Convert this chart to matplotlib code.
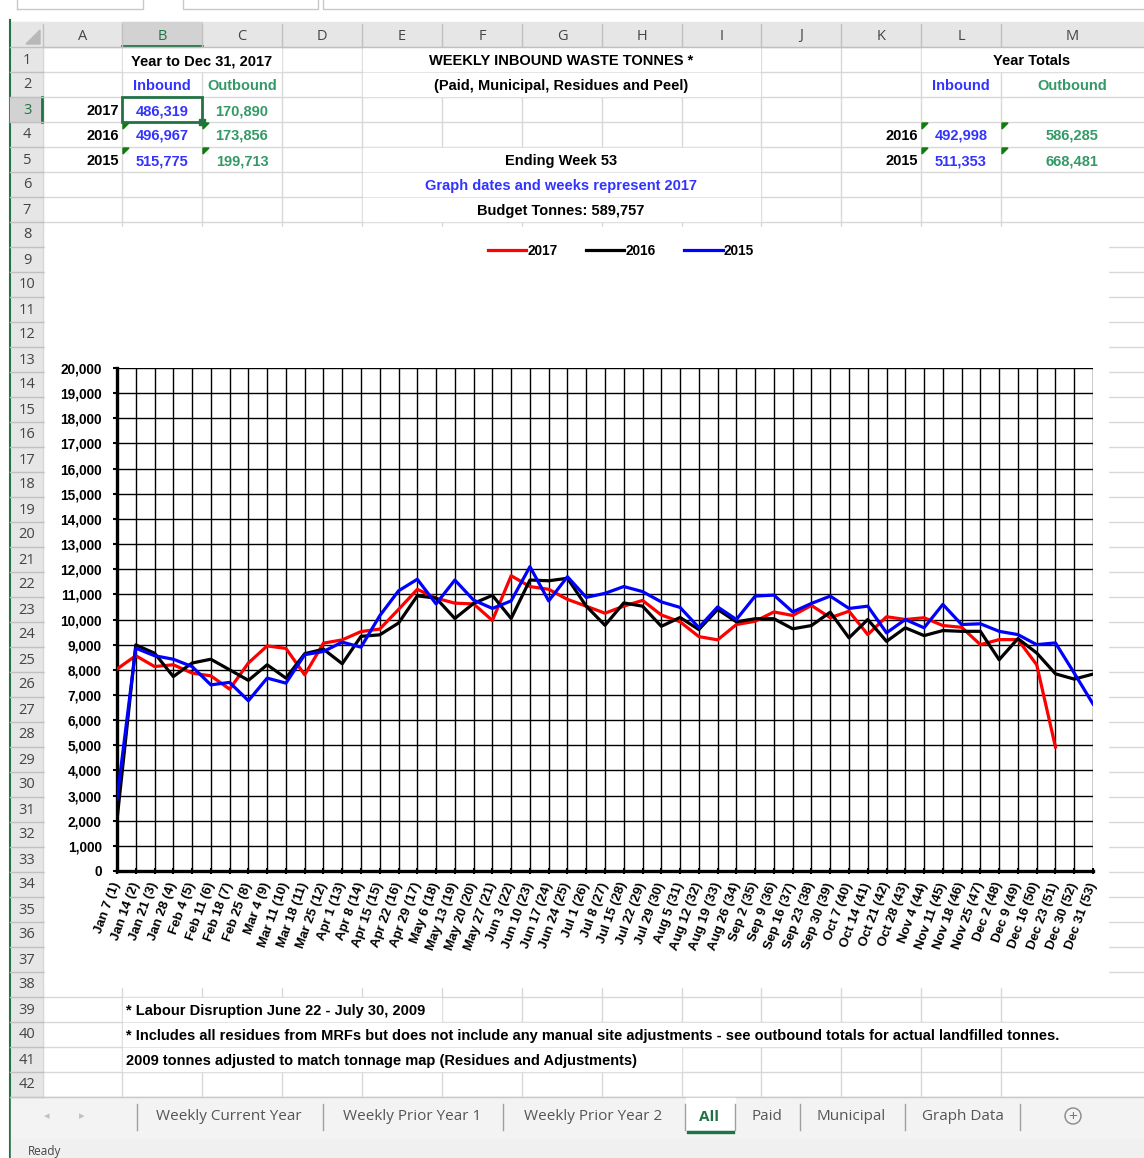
import matplotlib
matplotlib.use("Agg")
import matplotlib.pyplot as plt
from matplotlib.patches import Rectangle, Polygon
from matplotlib.ticker import FuncFormatter
import numpy as np

plt.rcParams['font.family'] = ['Liberation Sans', 'DejaVu Sans']

# weekly inbound tonnes
week_labels = ['Jan 7 (1)', 'Jan 14 (2)', 'Jan 21 (3)', 'Jan 28 (4)', 'Feb 4 (5)', 'Feb 11 (6)',
               'Feb 18 (7)', 'Feb 25 (8)', 'Mar 4 (9)', 'Mar 11 (10)', 'Mar 18 (11)', 'Mar 25 (12)',
               'Apr 1 (13)', 'Apr 8 (14)', 'Apr 15 (15)', 'Apr 22 (16)', 'Apr 29 (17)', 'May 6 (18)',
               'May 13 (19)', 'May 20 (20)', 'May 27 (21)', 'Jun 3 (22)', 'Jun 10 (23)', 'Jun 17 (24)',
               'Jun 24 (25)', 'Jul 1 (26)', 'Jul 8 (27)', 'Jul 15 (28)', 'Jul 22 (29)', 'Jul 29 (30)',
               'Aug 5 (31)', 'Aug 12 (32)', 'Aug 19 (33)', 'Aug 26 (34)', 'Sep 2 (35)', 'Sep 9 (36)',
               'Sep 16 (37)', 'Sep 23 (38)', 'Sep 30 (39)', 'Oct 7 (40)', 'Oct 14 (41)', 'Oct 21 (42)',
               'Oct 28 (43)', 'Nov 4 (44)', 'Nov 11 (45)', 'Nov 18 (46)', 'Nov 25 (47)', 'Dec 2 (48)',
               'Dec 9 (49)', 'Dec 16 (50)', 'Dec 23 (51)', 'Dec 30 (52)', 'Dec 31 (53)']

tonnes_2017 = [8030, 8560, 8130, 8200, 7870, 7760, 7230, 8270, 8950, 8850,
               7800, 9060, 9190, 9520, 9620, 10400, 11200, 10850, 10650, 10620,
               9960, 11740, 11310, 11200, 10800, 10530, 10250, 10530, 10760, 10180,
               9910, 9320, 9190, 9800, 9930, 10300, 10160, 10560, 10070, 10330,
               9400, 10110, 10000, 10070, 9760, 9690, 9000, 9200, 9200, 8200, 4930]
tonnes_2016 = [2030, 8990, 8660, 7730, 8270, 8420, 8000, 7580, 8200, 7670,
               8640, 8820, 8240, 9330, 9390, 9860, 10940, 10850, 10040, 10640,
               10960, 10040, 11570, 11540, 11640, 10530, 9770, 10660, 10530, 9730,
               10080, 9600, 10400, 9910, 10030, 10030, 9630, 9760, 10290, 9270,
               10000, 9130, 9670, 9360, 9560, 9530, 9530, 8400, 9240, 8670,
               7840, 7630, 7830]
tonnes_2015 = [2850, 8860, 8560, 8420, 8130, 7400, 7500, 6770, 7670, 7470,
               8600, 8730, 9100, 8900, 10150, 11140, 11600, 10620, 11570, 10770,
               10440, 10740, 12100, 10740, 11700, 10880, 11040, 11310, 11110, 10700,
               10480, 9680, 10500, 10000, 10930, 10970, 10300, 10640, 10930, 10440,
               10530, 9470, 10000, 9670, 10600, 9800, 9830, 9530, 9400, 9000,
               9070, 7870, 6640]

# sheet cells
columns = ['A', 'B', 'C', 'D', 'E', 'F', 'G', 'H', 'I', 'J', 'K', 'L', 'M']
col_edges = [43, 122, 202, 282, 362, 442, 522, 602, 682, 761, 841, 921, 1001, 1144]
years = ['2017', '2016', '2015']
ytd_inbound = ['486,319', '496,967', '515,775']
ytd_outbound = ['170,890', '173,856', '199,713']
total_years = ['2016', '2015']
total_inbound = ['492,998', '511,353']
total_outbound = ['586,285', '668,481']
footnotes = ['* Labour Disruption June 22 - July 30, 2009',
             '* Includes all residues from MRFs but does not include any manual site adjustments - see outbound totals for actual landfilled tonnes.',
             '2009 tonnes adjusted to match tonnage map (Residues and Adjustments)']
footnote_ends = [442, 1144, 682]
tabs = ['Weekly Current Year', 'Weekly Prior Year 1', 'Weekly Prior Year 2', 'All', 'Paid', 'Municipal', 'Graph Data']
tab_centers = [229, 412, 593, 709, 767, 851, 963]
tab_seps = [137, 323, 503, 685, 735, 800, 905, 1020]

W, H = 1144, 1158
fig = plt.figure(figsize=(W / 100, H / 100), dpi=100)
bg = fig.add_axes([0, 0, 1, 1])
bg.set_xlim(0, W)
bg.set_ylim(H, 0)
bg.axis('off')

BLUE = '#3333ff'
GREEN = '#339966'
GRID = '#d8d8d8'
HEAD = '#e6e6e6'
XLGREEN = '#217346'


def row_y(r):
    return 47 + 25 * (r - 1) + 14


# top strip (formula bar remains)
bg.plot([17, 143, 143], [9, 9, 0], color='#c8c8c8', lw=1)
bg.plot([17, 17], [0, 9], color='#c8c8c8', lw=1)
bg.plot([183, 183, 318, 318], [0, 9, 9, 0], color='#c8c8c8', lw=1)
bg.plot([323, 323, 1144], [0, 9, 9], color='#c8c8c8', lw=1)
bg.add_patch(Rectangle((0, 0), 10, H, color='white', zorder=0))
bg.plot([10, 10], [20, H], color=XLGREEN, lw=1.5)

# headers
bg.add_patch(Rectangle((10, 22), W - 10, 25, color=HEAD, zorder=1))
bg.add_patch(Rectangle((10, 22), 33, 1075, color=HEAD, zorder=1))
bg.add_patch(Polygon([[40, 44], [40, 30], [26, 44]], closed=True, color='#b8b8b8', zorder=2))
bg.add_patch(Rectangle((122, 22), 80, 25, color='#d2d2d2', zorder=2))
bg.plot([122, 202], [46, 46], color=XLGREEN, lw=2, zorder=3)
bg.add_patch(Rectangle((10, 97), 33, 25, color='#d2d2d2', zorder=2))
bg.plot([42, 42], [97, 122], color=XLGREEN, lw=2, zorder=3)
for i, c in enumerate(columns):
    bg.text((col_edges[i] + col_edges[i + 1]) / 2, 36, c, ha='center', va='center', fontsize=10.5,
            family=['Open Sans', 'DejaVu Sans'], color=XLGREEN if c == 'B' else '#444444', zorder=3)
    bg.plot([col_edges[i], col_edges[i]], [24, 46], color='#c0c0c0', lw=1, zorder=3)
for r in range(1, 43):
    bg.text(27, row_y(r) - 1, str(r), ha='center', va='center', fontsize=10.5,
            family=['Open Sans', 'DejaVu Sans'], color=XLGREEN if r == 3 else '#444444', zorder=3)
    bg.plot([10, 43], [47 + 25 * r, 47 + 25 * r], color='#c0c0c0', lw=1, zorder=3)
bg.plot([10, W], [47, 47], color='#c0c0c0', lw=1, zorder=3)

# cell grid
for r in range(0, 43):
    bg.plot([43, W], [47 + 25 * r, 47 + 25 * r], color=GRID, lw=1, zorder=1)
for xe in col_edges[:-1]:
    bg.plot([xe, xe], [47, 1097], color=GRID, lw=1, zorder=1)
# merged header cells hide inner borders
for x0, x1, rows in [(123, 281, [1]), (363, 760, [1, 2, 5, 6, 7]), (922, 1143, [1])]:
    for r in rows:
        bg.add_patch(Rectangle((x0, 47 + 25 * (r - 1) + 1), x1 - x0, 23, color='white', zorder=1.5))

# chart area white block
bg.add_patch(Rectangle((45, 227), 1063, 760, color='white', zorder=1.6))

# footnote text overflows over the cells it runs through
for i in range(3):
    bg.add_patch(Rectangle((123, 47 + 25 * (38 + i) + 1), footnote_ends[i] - 124, 23, color='white', zorder=1.5))

bold = dict(fontsize=10.5, fontweight='bold', zorder=4)
bg.text(202, row_y(1), 'Year to Dec 31, 2017', ha='center', va='center', **bold)
bg.text(561, row_y(1), 'WEEKLY INBOUND WASTE TONNES *', ha='center', va='center', **bold)
bg.text(1032, row_y(1), 'Year Totals', ha='center', va='center', **bold)
bg.text(162, row_y(2), 'Inbound', ha='center', va='center', color=BLUE, **bold)
bg.text(242, row_y(2), 'Outbound', ha='center', va='center', color=GREEN, **bold)
bg.text(561, row_y(2), '(Paid, Municipal, Residues and Peel)', ha='center', va='center', **bold)
bg.text(961, row_y(2), 'Inbound', ha='center', va='center', color=BLUE, **bold)
bg.text(1072, row_y(2), 'Outbound', ha='center', va='center', color=GREEN, **bold)
for i in range(3):
    bg.text(119, row_y(3 + i), years[i], ha='right', va='center', **bold)
    bg.text(162, row_y(3 + i), ytd_inbound[i], ha='center', va='center', color=BLUE, **bold)
    bg.text(242, row_y(3 + i), ytd_outbound[i], ha='center', va='center', color=GREEN, **bold)
for i in range(2):
    bg.text(918, row_y(4 + i), total_years[i], ha='right', va='center', **bold)
    bg.text(961, row_y(4 + i), total_inbound[i], ha='center', va='center', color=BLUE, **bold)
    bg.text(1072, row_y(4 + i), total_outbound[i], ha='center', va='center', color=GREEN, **bold)
bg.text(561, row_y(5), 'Ending Week 53', ha='center', va='center', **bold)
bg.text(561, row_y(6), 'Graph dates and weeks represent 2017', ha='center', va='center', color=BLUE, **bold)
bg.text(561, row_y(7), 'Budget Tonnes: 589,757', ha='center', va='center', **bold)
for i, t in enumerate(footnotes):
    bg.text(126, row_y(39 + i), t, ha='left', va='center', **bold)

# error-indicator triangles and selected cell
for xc in [122, 202, 921, 1001]:
    for r in [4, 5]:
        y0 = 47 + 25 * (r - 1)
        bg.add_patch(Polygon([[xc + 1, y0 + 1], [xc + 7, y0 + 1], [xc + 1, y0 + 7]], closed=True,
                             color='#107c10', zorder=5))
bg.add_patch(Rectangle((122, 97), 80, 25, fill=False, ec=XLGREEN, lw=2, zorder=5))
bg.add_patch(Rectangle((199, 119), 6, 6, color=XLGREEN, zorder=6))

# sheet tabs / status bar
bg.add_patch(Rectangle((11, 1097), W, 42, color='#f3f3f3', zorder=2))
bg.add_patch(Rectangle((11, 1139), W, 19, color='#f0f0f0', zorder=2))
bg.plot([11, W], [1097, 1097], color='#c8c8c8', lw=1, zorder=3)
bg.add_patch(Rectangle((686, 1098), 49, 36, color='white', zorder=3))
bg.plot([688, 733], [1132, 1132], color=XLGREEN, lw=2.5, zorder=4)
for xs in tab_seps:
    bg.plot([xs, xs], [1104, 1130], color='#a0a0a0', lw=1, zorder=4)
for t, xc in zip(tabs, tab_centers):
    bg.text(xc, 1117, t, ha='center', va='center', fontsize=11,
            family=['Open Sans', 'DejaVu Sans'], color=XLGREEN if t == 'All' else '#555555',
            fontweight='bold' if t == 'All' else 'normal', zorder=5)
bg.text(47, 1116, '\u25C2', ha='center', va='center', fontsize=8, color='#c0c0c0', zorder=5)
bg.text(82, 1116, '\u25B8', ha='center', va='center', fontsize=8, color='#c0c0c0', zorder=5)
bg.text(1073, 1116, '+', ha='center', va='center', fontsize=11, color='#777777', zorder=5)
bg.add_patch(plt.Circle((1073, 1116), 8, fill=False, ec='#888888', lw=1, zorder=5))
bg.text(28, 1152, 'Ready', ha='left', va='center', fontsize=8.5,
        family=['Open Sans', 'DejaVu Sans'], color='#444444', zorder=5)

# the chart
ax = fig.add_axes([117 / W, 1 - 871 / H, (1093 - 117) / W, (871 - 368) / H])
ax.set_zorder(10)
x = np.arange(len(week_labels))
ax.plot(np.arange(len(tonnes_2017)), tonnes_2017, color='#ff0000', lw=2.3, label='2017',
        solid_joinstyle='round', zorder=3)
ax.plot(x, tonnes_2016, color='black', lw=2.3, label='2016', solid_joinstyle='round', zorder=3)
ax.plot(x, tonnes_2015, color='#0000ff', lw=2.3, label='2015', solid_joinstyle='round', zorder=3)
ax.set_xlim(0, len(week_labels) - 1)
ax.set_ylim(0, 20000)
ax.set_yticks(np.arange(0, 20001, 1000))
ax.yaxis.set_major_formatter(FuncFormatter(lambda v, p: f'{int(v):,}'))
ax.set_xticks(x)
ax.set_xticklabels(week_labels, rotation=70, ha='right', va='center', rotation_mode='anchor',
                   fontsize=9.5, fontweight='bold')
for lab in ax.get_yticklabels():
    lab.set_fontweight('bold')
    lab.set_fontsize(9.8)
ax.grid(True, color='black', lw=1.0)
ax.set_axisbelow(True)
for s in ['top', 'right']:
    ax.spines[s].set_visible(False)
for s in ['left', 'bottom']:
    ax.spines[s].set_linewidth(2.4)
ax.tick_params(axis='y', direction='out', length=3, width=1.5, pad=8)
ax.tick_params(axis='x', direction='inout', length=5, width=1.5, pad=6)

fig.legend(loc='center', bbox_to_anchor=(621 / W, 1 - 251 / H), ncol=3, frameon=False,
           handlelength=2.8, handletextpad=0.1, columnspacing=2.1,
           prop={'weight': 'bold', 'size': 9.8})

fig.savefig('out.png', dpi=100)
